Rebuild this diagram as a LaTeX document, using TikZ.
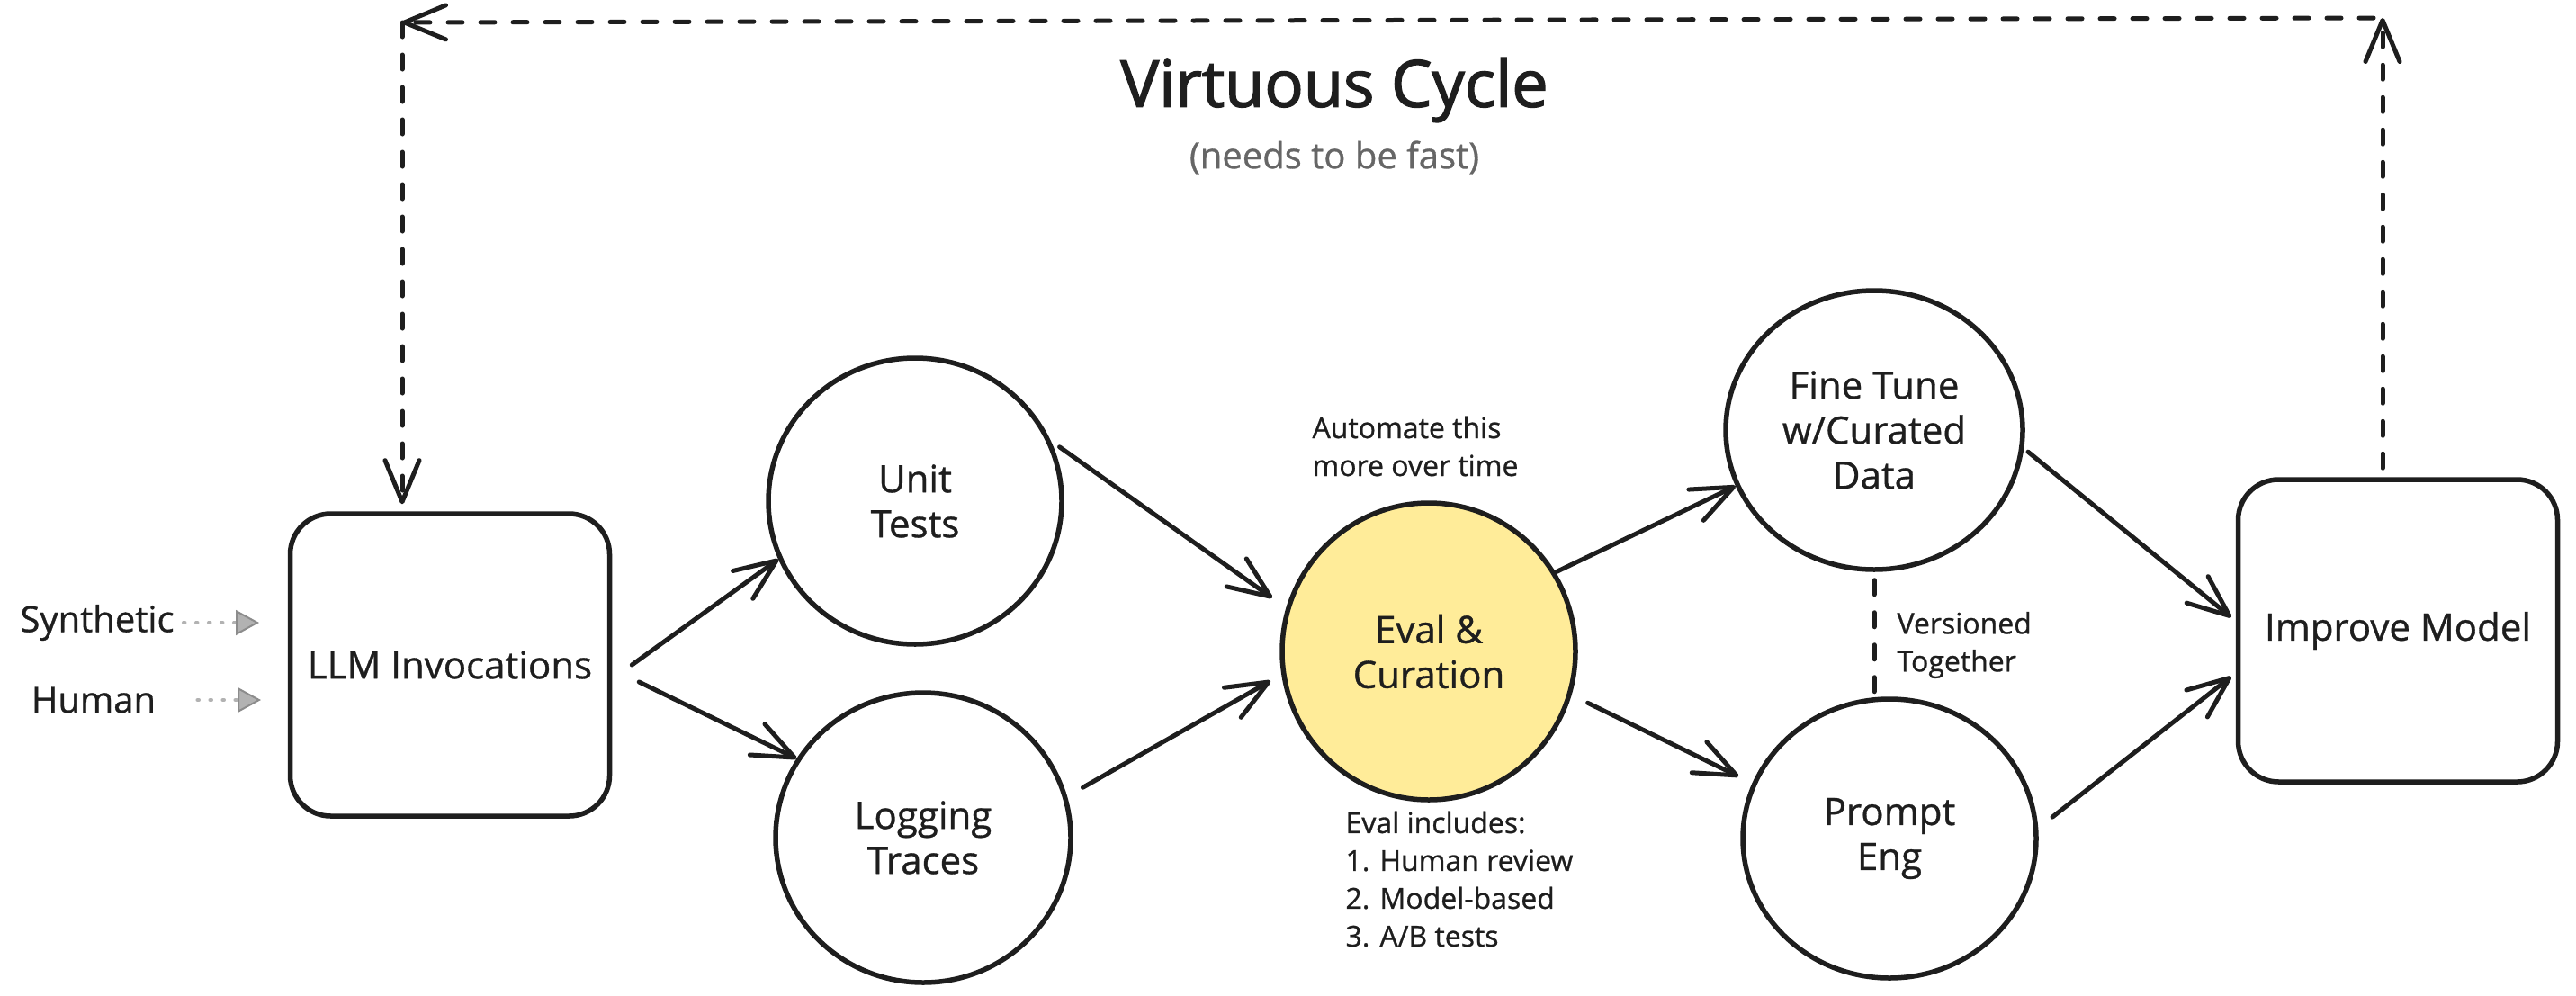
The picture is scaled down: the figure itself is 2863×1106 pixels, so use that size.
\documentclass[tikz,border=0pt]{standalone}
\usepackage{fontspec}
\setmainfont{Open Sans}[FakeBold=0.8]
\newfontfamily\titlefont{Open Sans}[FakeBold=2]
\usetikzlibrary{arrows.meta,shapes.geometric,calc}
\definecolor{ink}{HTML}{1E1E1E}
\definecolor{evalfill}{HTML}{FFEC99}
\begin{document}
\begin{tikzpicture}[x=1pt,y=-1pt,
  every node/.style={text=ink},
  medtext/.style={font=\fontsize{42}{50}\selectfont, align=center},
  smalltext/.style={font=\fontsize{32}{42}\selectfont, align=left},
  blob/.style={ellipse, draw=ink, line width=5.5pt, inner sep=0pt, medtext},
  boxnode/.style={draw=ink, line width=5.5pt, rounded corners=45pt, minimum width=355pt, minimum height=336pt, medtext},
  arr/.style={draw=ink, line width=5pt, line cap=round, -{Straight Barb[length=46pt,width=38pt,round]}},
  dasharr/.style={arr, dash pattern=on 16pt off 20pt},
  dashline/.style={draw=ink, line width=5pt, line cap=round, dash pattern=on 16pt off 20pt},
  feed/.style={draw=black!30, line width=3.5pt, line cap=round, dash pattern=on 2pt off 12pt, -{Triangle[length=26pt,width=28pt,fill=black!30,color=black!45,line width=2pt]}}
]
\useasboundingbox (0,0) rectangle (2863,1106);
\fill[white] (0,0) rectangle (2863,1106);

% title
\node[font=\titlefont\fontsize{72}{80}\selectfont] (title) at (1483,100) {Virtuous Cycle};
\node[font=\fontsize{40}{48}\selectfont, text=black!60] (sub) at (1483,175) {(needs to be fast)};

% main nodes
\node[boxnode] (llm) at (500,739) {LLM Invocations};
\node[boxnode] (imp) at (2665,701) {Improve Model};
\node[blob, minimum width=326pt, minimum height=318pt] (unit) at (1017,557) {Unit\\Tests};
\node[blob, minimum width=328pt, minimum height=322pt] (log) at (1026,931) {Logging\\Traces};
\node[blob, fill=evalfill, minimum width=326pt, minimum height=330pt] (eval) at (1588,724) {Eval \&\\Curation};
\node[blob, minimum width=330pt, minimum height=310pt] (fine) at (2083,478) {Fine Tune\\w/Curated\\Data};
\node[blob, minimum width=326pt, minimum height=310pt] (prompt) at (2100,932) {Prompt\\Eng};

% annotations
\node[smalltext, anchor=west] (auto) at (1455,496) {Automate this\\more over time};
\node[smalltext, anchor=west] (inc) at (1492,977) {Eval includes:\\1. Human review\\2. Model-based\\3. A/B tests};
\node[smalltext, anchor=west] (ver) at (2105,717) {Versioned\\Together};

% inputs
\node[font=\fontsize{40}{48}\selectfont, inner sep=0pt] (syn) at (108,692) {Synthetic};
\node[font=\fontsize{40}{48}\selectfont, inner sep=0pt] (hum) at (104,778) {Human};
\coordinate (synT) at (288,692);
\coordinate (humT) at (290,778);
\draw[feed] ([xshift=10pt]syn.east) -- (synT);
\draw[feed] ([xshift=46pt]hum.east) -- (humT);

% flow arrows
\draw[arr] ([xshift=22pt]llm.east) -- (unit.203);
\draw[arr] ([shift={(30pt,-19pt)}]llm.east) -- (log.148);
\draw[arr, shorten <=12pt, shorten >=19pt] (unit.24) -- (eval.163);
\draw[arr, shorten <=20pt, shorten >=14pt] (log.16) -- (eval.189);
\draw[arr] (eval.32) -- (fine.202);
\draw[arr, shorten <=20pt, shorten >=17pt] (eval.343) -- (prompt.158);
\draw[arr, shorten <=6pt] (fine.353) -- ([shift={(-5pt,15pt)}]imp.west);
\draw[arr, shorten <=20pt] (prompt.4) -- ([shift={(-5pt,-51pt)}]imp.west);

% versioned together
\draw[dashline, shorten <=9pt, shorten >=5pt] (fine.south) -- (fine.south |- prompt.north);

% virtuous cycle loop
\coordinate (cR) at (2648,20);
\coordinate (cL) at (447,25);
\draw[dasharr, shorten <=10pt] ([xshift=-17pt]imp.north) -- (cR);
\draw[dasharr, shorten <=10pt] (cR) -- (cL);
\draw[dasharr] (cL) -- ([xshift=-53pt,yshift=8pt]llm.north);
\end{tikzpicture}
\end{document}
